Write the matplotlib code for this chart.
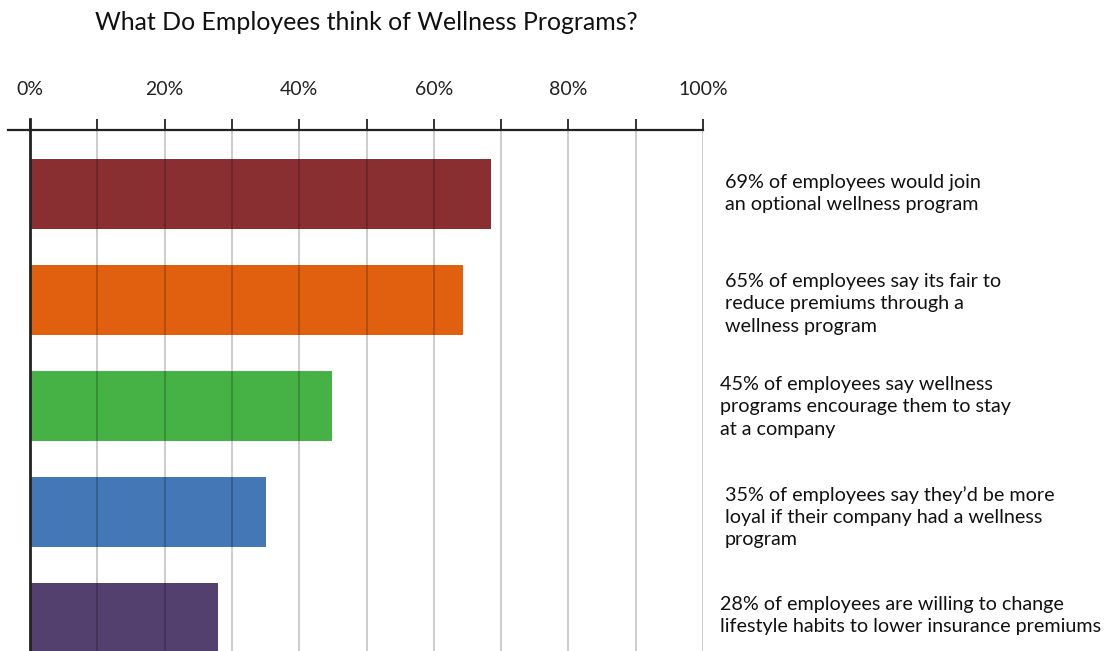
import matplotlib
matplotlib.use("Agg")
import matplotlib.pyplot as plt
from matplotlib.lines import Line2D

values = [68.5, 64.4, 44.9, 35.0, 28.0]
colors = ["#8a2f31", "#e06010", "#46b246", "#4477b5", "#53406e"]
notes = [
    "69% of employees would join\nan optional wellness program",
    "65% of employees say its fair to\nreduce premiums through a\nwellness program",
    "45% of employees say wellness\nprograms encourage them to stay\nat a company",
    "35% of employees say they\u2019d be more\nloyal if their company had a wellness\nprogram",
    "28% of employees are willing to change\nlifestyle habits to lower insurance premiums",
]
note_x = [725, 725, 720, 725, 720]
note_top = [174, 273, 376, 486, 596]
tick_vals = list(range(0, 101, 10))
tick_labels = [f"{v}%" if v % 20 == 0 else "" for v in tick_vals]
title = "What Do Employees think of Wellness Programs?"

W, H = 1107, 651
fig = plt.figure(figsize=(W / 100, H / 100), dpi=100)
plt.rcParams['font.family'] = ['Lato', 'DejaVu Sans']

ax_l, ax_r, ax_t, ax_b = 30, 703, 130, 651
ax = fig.add_axes([ax_l / W, 1 - ax_b / H, (ax_r - ax_l) / W, (ax_b - ax_t) / H])

ypos = list(range(len(values)))
ax.barh(ypos, values, height=70 / 106, color=colors, zorder=1)
ax.set_xlim(0, 100)
ax.set_ylim(4 + 33 / 106, -64 / 106)

for v in tick_vals[1:]:
    ax.axvline(v, color="black", alpha=0.2, lw=1.4, zorder=2)

ax.xaxis.tick_top()
ax.set_xticks(tick_vals)
ax.set_xticklabels(tick_labels, fontsize=14, color="#222222")
ax.tick_params(axis="x", direction="out", length=8, width=1.3, color="#222222", pad=15)
ax.set_yticks([])
for s in ["right", "bottom"]:
    ax.spines[s].set_visible(False)
ax.spines["top"].set_visible(False)
ax.spines["left"].set_linewidth(2)
ax.spines["left"].set_color("#222222")
ax.spines["left"].set_zorder(3)

# horizontal axis line extending left of the plot
fig.add_artist(Line2D([8 / W, ax_r / W], [1 - ax_t / H, 1 - ax_t / H],
                      color="#222222", lw=1.6))
# left spine extension up to tick top
fig.add_artist(Line2D([ax_l / W, ax_l / W], [1 - 119 / H, 1 - ax_t / H],
                      color="#222222", lw=2))

fig.text(95 / W, 1 - 22 / H, title, fontsize=17.9, va="center", ha="left", color="#111111")

for txt, x, t in zip(notes, note_x, note_top):
    fig.text(x / W, 1 - t / H, txt, fontsize=14.2, va="top", ha="left",
             linespacing=1.38, color="#111111")

fig.savefig("out.png", dpi=100)
